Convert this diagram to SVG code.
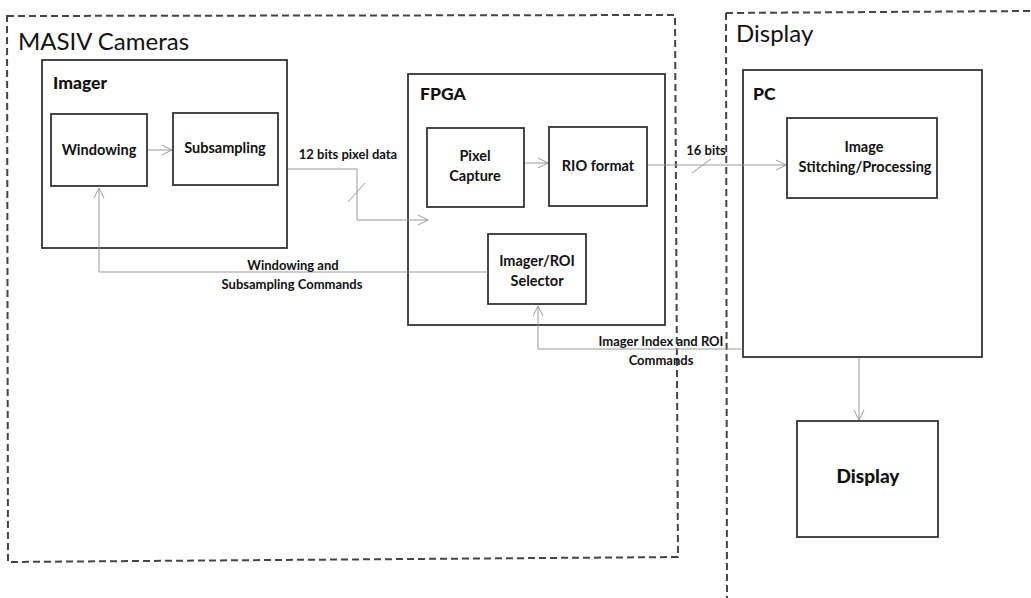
<svg xmlns="http://www.w3.org/2000/svg" width="1031" height="598" viewBox="0 0 1031 598">
<style>
.grp{fill:none;stroke:#444;stroke-width:2;stroke-dasharray:7 4}
.box{fill:#fff;stroke:#333;stroke-width:1.8}
.con{fill:none;stroke:#9a9a9a;stroke-width:1}
.t{font-family:Lato,"Open Sans",sans-serif;font-weight:bold;font-size:14.5px;fill:#111;text-anchor:middle}
.c{font-family:Lato,"Open Sans",sans-serif;font-weight:bold;font-size:13px;fill:#111;text-anchor:middle}
.h{font-family:Lato,"Open Sans",sans-serif;font-weight:900;font-size:17.5px;fill:#111}
.g{font-family:Lato,"Open Sans",sans-serif;font-size:24px;fill:#111}
</style>
<defs>
<marker id="ar" viewBox="0 0 12 12" refX="11" refY="6" markerWidth="12" markerHeight="12" markerUnits="userSpaceOnUse" orient="auto">
<path d="M1,1 L11,6 L1,11" fill="none" stroke="#9a9a9a" stroke-width="1"/>
</marker>
</defs>
<rect width="1031" height="598" fill="#fff"/>
<g id="masiv">
<path class="grp" d="M7,16 L675,15 L678,557 L8,562 Z"/>
<text class="g" x="18" y="50">MASIV Cameras</text>
</g>
<g id="display-group">
<path class="grp" d="M726,13 L1031,11 M726,13 L727,598"/>
<text class="g" x="736" y="42">Display</text>
</g>
<g id="imager">
<rect class="box" x="42" y="60" width="245" height="188"/>
<text class="h" x="53" y="89">Imager</text>
</g>
<g id="windowing">
<rect class="box" x="51" y="114" width="96" height="72"/>
<text class="t" x="99" y="155">Windowing</text>
</g>
<g id="subsampling">
<rect class="box" x="173" y="113" width="105" height="72"/>
<text class="t" x="225" y="153">Subsampling</text>
</g>
<g id="fpga">
<rect class="box" x="408" y="74" width="257" height="251"/>
<text class="h" x="420" y="100">FPGA</text>
</g>
<g id="pixel-capture">
<rect class="box" x="427" y="128" width="97" height="79"/>
<text class="t" x="475" y="161">Pixel</text>
<text class="t" x="475" y="181">Capture</text>
</g>
<g id="rio-format">
<rect class="box" x="549" y="127" width="98" height="79"/>
<text class="t" x="598" y="171">RIO format</text>
</g>
<g id="selector">
<rect class="box" x="488" y="234" width="98" height="70"/>
<text class="t" x="537" y="266">Imager/ROI</text>
<text class="t" x="537" y="286">Selector</text>
</g>
<g id="pc">
<rect class="box" x="743" y="70" width="239" height="287"/>
<text class="h" x="753" y="100">PC</text>
</g>
<g id="stitching">
<rect class="box" x="787" y="118" width="150" height="80"/>
<text class="t" x="864" y="152">Image</text>
<text class="t" x="865" y="172">Stitching/Processing</text>
</g>
<g id="display">
<rect class="box" x="797" y="421" width="141" height="116"/>
<text class="t" x="868" y="483" style="font-size:19px;font-weight:900">Display</text>
</g>
<g id="connectors">
<line class="con" x1="148" y1="150" x2="172" y2="150" marker-end="url(#ar)"/>
<path class="con" d="M288,169 L357,169 L357,220 L428,220" marker-end="url(#ar)"/>
<line class="con" x1="348" y1="202" x2="365" y2="183"/>
<text class="c" x="348" y="159">12 bits pixel data</text>
<line class="con" x1="525" y1="163" x2="548" y2="163" marker-end="url(#ar)"/>
<line class="con" x1="648" y1="165" x2="786" y2="165" marker-end="url(#ar)"/>
<line class="con" x1="692" y1="173" x2="711" y2="159"/>
<text class="c" x="706" y="155">16 bits</text>
<path class="con" d="M488,272 L99,272 L99,188" marker-end="url(#ar)"/>
<text class="c" x="293" y="270">Windowing and</text>
<text class="c" x="292" y="289">Subsampling Commands</text>
<path class="con" d="M743,349 L538,349 L538,306" marker-end="url(#ar)"/>
<text class="c" x="661" y="346">Imager Index and ROI</text>
<text class="c" x="661" y="365">Commands</text>
<line class="con" x1="859" y1="358" x2="859" y2="420" marker-end="url(#ar)"/>
</g>
</svg>
